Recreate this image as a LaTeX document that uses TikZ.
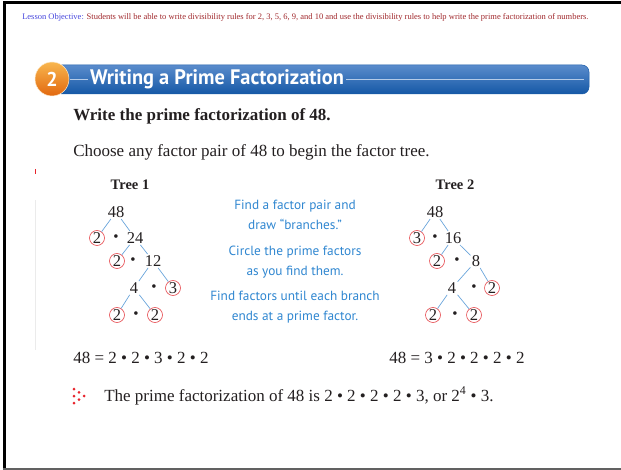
\documentclass[tikz,border=0pt]{standalone}
\usepackage{fontspec}
\setmainfont{Liberation Serif}
\newfontfamily\ptsans{PT Sans}
\usetikzlibrary{positioning}
\definecolor{ink}{HTML}{231F20}
\definecolor{objblue}{HTML}{4646DC}
\definecolor{objred}{HTML}{A0282C}
\definecolor{bantop}{HTML}{5A8CCC}
\definecolor{banmid}{HTML}{2A78CC}
\definecolor{banbot}{HTML}{1558A6}
\definecolor{banedge}{HTML}{1A5CA8}
\definecolor{otop}{HTML}{F8B64E}
\definecolor{obot}{HTML}{E2680F}
\definecolor{cbranch}{HTML}{6AA5DB}
\definecolor{cring}{HTML}{E5484D}
\definecolor{ctip}{HTML}{2F86D0}
\definecolor{cdot}{HTML}{E8242C}
\tikzset{
  every picture/.style={line width=0.5pt},
  obj/.style={font=\fontsize{8.5}{10}\selectfont,anchor=west,inner sep=0pt},
  txt/.style={font=\fontsize{17}{20}\selectfont,text=ink,anchor=west,inner sep=0pt},
  btxt/.style={txt,font=\fontsize{17}{20}\selectfont\bfseries},
  treehd/.style={font=\fontsize{14.5}{16}\selectfont\bfseries,text=ink,inner sep=0pt},
  num/.style={font=\fontsize{16.5}{18}\selectfont,text=ink,inner sep=1.2pt},
  prm/.style={num,circle,draw=cring,line width=0.6pt,inner sep=0pt,minimum size=15pt},
  dt/.style={font=\fontsize{15}{16}\selectfont,text=ink,inner sep=0pt},
  br/.style={draw=cbranch,line width=0.7pt},
  tip/.style={font=\ptsans\fontsize{13.3}{20}\selectfont,text=ctip,align=center},
}
\begin{document}
\begin{tikzpicture}[x=1pt,y=-1pt]
  \useasboundingbox (0,0) rectangle (621,470);
  % frame
  \draw[line width=3pt] (4.3,3) -- (621,3);
  \draw[line width=3pt] (4.3,1.5) -- (4.3,470);
  \draw[black!62,line width=2pt] (3,469) -- (621,469);
  \draw[black!8,line width=1pt] (35,200) -- (35,350);
  \draw[cdot,line width=1pt] (35,169) -- (35,174);
  % objective
  \node[obj] (objective) at (22,17) {\textcolor{objblue}{Lesson Objective:} \textcolor{objred}{Students will be able to write divisibility rules for 2, 3, 5, 6, 9, and 10 and use the divisibility rules to help write the prime factorization of numbers.}};
  % banner
  \shade[top color=bantop,middle color=banmid,bottom color=banbot,draw=banedge,rounded corners=7pt] (55,65) rectangle (589,94);
  \node[font=\ptsans\bfseries\fontsize{21}{24}\selectfont,text=white,anchor=west,inner sep=0pt,xscale=0.97,transform shape] (title) at (90,79) {Writing a Prime Factorization};
  \draw[white!55!bantop,line width=0.6pt] (70,79) -- ([xshift=-2pt]title.west);
  \draw[white!55!bantop,line width=0.6pt] ([xshift=2pt]title.east) -- (584,79);
  \node[circle,minimum size=34pt,inner sep=0pt,top color=otop,bottom color=obot,draw=white!70!otop,
        font=\ptsans\bfseries\fontsize{20}{22}\selectfont,text=white] (sec) at (52,79) {2};
  % task
  \node[btxt] (task) at (73,116) {Write the prime factorization of 48.};
  \node[txt] (choose) at (73,152) {Choose any factor pair of 48 to begin the factor tree.};
  % tree 1
  \node[treehd] (t1) at (130,185) {Tree 1};
  \node[num] (a48) at (116,212) {48};
  \node[prm] (a2) at (97,238) {2};
  \node[num] (a24) at (135,238) {24};
  \node[prm] (b2) at (117,261) {2};
  \node[num] (a12) at (153,261) {12};
  \node[num] (a4) at (134,288) {4};
  \node[prm] (a3) at (173,288) {3};
  \node[prm] (c2) at (117,315) {2};
  \node[prm] (d2) at (155,315) {2};
  \foreach \x/\y [count=\i] in {116/238,133/261,154/288,136/315}
    \node[dt] (ad\i) at (\x,\y) {•};
  \draw[br] (a48) -- (a2);  \draw[br] (a48) -- (a24);
  \draw[br] (a24) -- (b2);  \draw[br] (a24) -- (a12);
  \draw[br] (a12) -- (a4);  \draw[br] (a12) -- (a3);
  \draw[br] (a4) -- (c2);   \draw[br] (a4) -- (d2);
  % tree 2
  \node[treehd] (t2) at (455,185) {Tree 2};
  \node[num] (e48) at (435,212) {48};
  \node[prm] (e3) at (417,238) {3};
  \node[num] (e16) at (453,238) {16};
  \node[prm] (f2) at (437,261) {2};
  \node[num] (e8) at (476,261) {8};
  \node[num] (e4) at (452,288) {4};
  \node[prm] (g2) at (492,288) {2};
  \node[prm] (h2) at (433,315) {2};
  \node[prm] (i2) at (474,315) {2};
  \foreach \x/\y [count=\i] in {435/238,457/261,474/288,455/315}
    \node[dt] (ed\i) at (\x,\y) {•};
  \draw[br] (e48) -- (e3);  \draw[br] (e48) -- (e16);
  \draw[br] (e16) -- (f2);  \draw[br] (e16) -- (e8);
  \draw[br] (e8) -- (e4);   \draw[br] (e8) -- (g2);
  \draw[br] (e4) -- (h2);   \draw[br] (e4) -- (i2);
  % tips
  \node[tip] (tip1) at (295,215) {Find a factor pair and\\draw “branches.”};
  \node[tip] (tip2) at (295,262) {Circle the prime factors\\as you find them.};
  \node[tip] (tip3) at (295,307) {Find factors until each branch\\ends at a prime factor.};
  % results
  \node[txt] (eq1) at (73,358) {48 = 2 • 2 • 3 • 2 • 2};
  \node[txt] (eq2) at (389,358) {48 = 3 • 2 • 2 • 2 • 2};
  \foreach \x/\y in {74/389,79/392.3,74/396,84/396,79/399.7,74/403}
    \fill[cdot] (\x,\y) circle (1.5);
  \node[txt] (answer) at (104,396) {The prime factorization of 48 is 2 • 2 • 2 • 2 • 3, or 2\textsuperscript{4} • 3.};
\end{tikzpicture}
\end{document}
